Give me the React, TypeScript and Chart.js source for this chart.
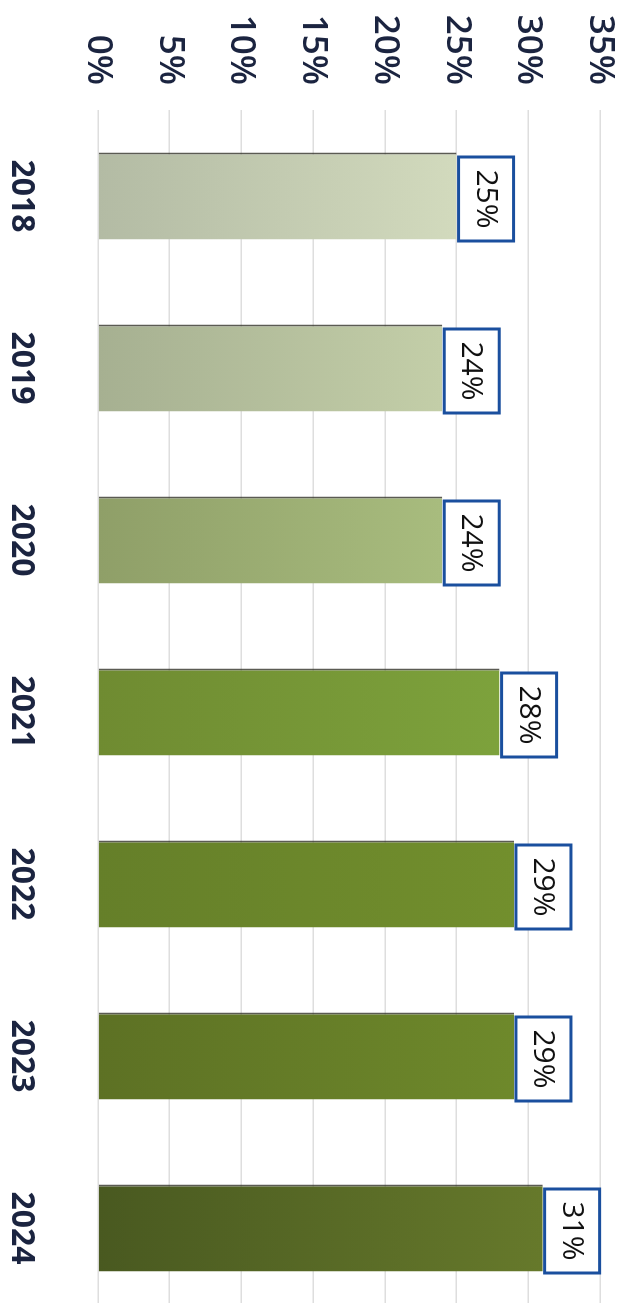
import React, { useEffect, useRef } from "react";
import { Chart, registerables } from "chart.js";

Chart.register(...registerables);

const years = ["2018", "2019", "2020", "2021", "2022", "2023", "2024"];
const shares = [25, 24, 24, 28, 29, 29, 31];
const valueTicks = [0, 5, 10, 15, 20, 25, 30, 35];
const baseColors = ["#b3bba4", "#a6b091", "#8f9f68", "#6f8b31", "#657f29", "#5d7124", "#495920"];
const endColors = ["#d2dabd", "#c3cea8", "#a8bc7e", "#7da23c", "#728f2d", "#6e892b", "#66792b"];

const CANVAS_W = 1320;
const CANVAS_H = 622;

const labelBoxPlugin = {
  id: "labelBoxes",
  afterDatasetsDraw(chart: any) {
    const ctx = chart.ctx;
    const meta = chart.getDatasetMeta(0);
    ctx.save();
    meta.data.forEach((bar: any, i: number) => {
      const bw = 84;
      const bh = 55;
      const x0 = bar.x - bw / 2 + 3;
      const y0 = bar.y - 2 - bh;
      ctx.fillStyle = "#ffffff";
      ctx.fillRect(x0, y0, bw, bh);
      ctx.strokeStyle = "#1a4f9e";
      ctx.lineWidth = 3;
      ctx.strokeRect(x0, y0, bw, bh);
      ctx.fillStyle = "#111111";
      ctx.font = "500 30px 'Open Sans', sans-serif";
      ctx.textAlign = "center";
      ctx.textBaseline = "middle";
      ctx.fillText(shares[i] + "%", x0 + bw / 2, y0 + bh / 2 + 1);
    });
    ctx.restore();
  },
};

export default function App() {
  const ref = useRef<HTMLCanvasElement | null>(null);

  useEffect(() => {
    if (!ref.current) return;
    const chart = new Chart(ref.current, {
      type: "bar",
      data: {
        labels: years,
        datasets: [
          {
            data: shares,
            backgroundColor: (c: any) => {
              const ch = c.chart;
              const area = ch.chartArea;
              const i = c.dataIndex;
              if (!area || i === undefined) return baseColors[i ?? 0];
              const ys = ch.scales.y;
              const y0 = ys.getPixelForValue(0);
              const y1 = ys.getPixelForValue(shares[i]);
              const g = ch.ctx.createLinearGradient(0, y0, 0, y1);
              g.addColorStop(0, baseColors[i]);
              g.addColorStop(1, endColors[i]);
              return g;
            },
            borderColor: "rgba(50,50,40,0.8)",
            borderWidth: { left: 2, top: 0, right: 0, bottom: 0 } as any,
            borderSkipped: false,
            barPercentage: 87 / 172,
            categoryPercentage: 1,
          },
        ],
      },
      options: {
        animation: false,
        responsive: false,
        devicePixelRatio: 1,
        layout: { padding: { top: 0, right: 6, left: 0, bottom: 0 } },
        plugins: {
          legend: { display: false },
          tooltip: { enabled: false },
        },
        scales: {
          x: {
            grid: { display: false, drawTicks: false },
            border: { display: false },
            ticks: {
              padding: 58,
              color: "#1b2440",
              font: { family: "'Open Sans', sans-serif", size: 32, weight: "700" },
              maxRotation: 0,
              minRotation: 0,
            },
            afterFit: (s: any) => {
              s.height = 98;
              s.paddingLeft = 0;
              s.paddingRight = 0;
            },
          },
          y: {
            min: valueTicks[0],
            max: valueTicks[valueTicks.length - 1],
            afterBuildTicks: (s: any) => {
              s.ticks = valueTicks.map((v) => ({ value: v }));
            },
            grid: { color: "#dedede", lineWidth: 1.5, drawTicks: false },
            border: { display: false },
            ticks: {
              padding: 25,
              color: "#1b2440",
              font: { family: "'Open Sans', sans-serif", size: 35, weight: "600" },
              callback: (v: any) => v + "%",
            },
            afterFit: (s: any) => {
              s.width = 110;
              s.paddingTop = 22;
              s.paddingBottom = 0;
            },
          },
        },
      },
      plugins: [labelBoxPlugin],
    } as any);
    return () => chart.destroy();
  }, []);

  return (
    <div
      style={{
        position: "fixed",
        left: 0,
        top: 0,
        width: CANVAS_W,
        height: CANVAS_H,
        background: "#ffffff",
        transformOrigin: "0 0",
        transform: `translate(${CANVAS_H}px, 0px) rotate(90deg)`,
      }}
    >
      <canvas ref={ref} width={CANVAS_W} height={CANVAS_H} style={{ display: "block" }} />
    </div>
  );
}
